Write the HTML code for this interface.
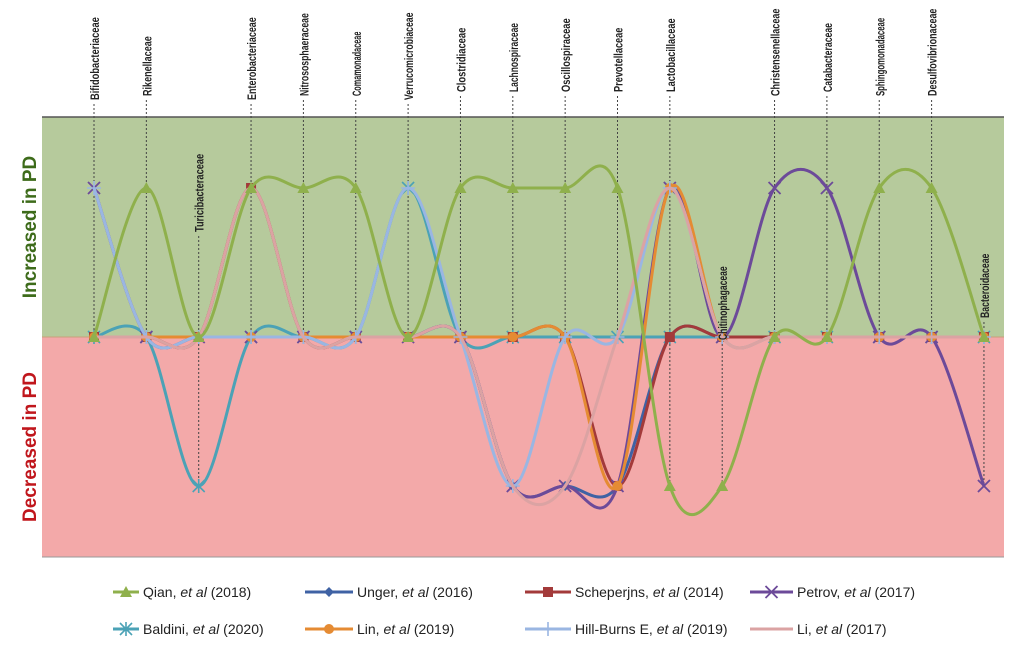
<!DOCTYPE html>
<html><head><meta charset="utf-8"><style>
body{margin:0;background:#fff;}
svg{display:block;font-family:"Liberation Sans",sans-serif;}
</style></head><body>
<svg id="chart" width="1014" height="648">
<rect x="42" y="117" width="962" height="220" fill="#b6ca9c"/>
<rect x="42" y="337" width="962" height="220" fill="#f3a9a9"/>
<line x1="42" y1="117" x2="1004" y2="117" stroke="#555" stroke-width="1.5"/>
<line x1="42" y1="557" x2="1004" y2="557" stroke="#999" stroke-width="1"/>
<line x1="42" y1="337" x2="1004" y2="337" stroke="#c9a07a" stroke-width="1"/>
<text transform="translate(36,227) rotate(-90)" text-anchor="middle" font-size="19" font-weight="bold" fill="#3d6b1a">Increased in PD</text>
<text transform="translate(36,447) rotate(-90)" text-anchor="middle" font-size="19" font-weight="bold" fill="#c0161c">Decreased in PD</text>
<g id="guides"></g><g id="lines"></g><g id="labels"></g><g id="legend"></g>
</svg>
<script>
const categories=["Bifidobacteriaceae","Rikenellaceae","Turicibacteraceae","Enterobacteriaceae","Nitrososphaeraceae","Comamonadaceae","Verrucomicrobiaceae","Clostridiaceae","Lachnospiraceae","Oscillospiraceae","Prevotellaceae","Lactobacillaceae","Chitinophagaceae","Christensenellaceae","Catabacteraceae","Sphingomonadaceae","Desulfovibrionaceae","Bacteroidaceae"];
const seriesNames=["Qian, et al (2018)","Unger, et al (2016)","Scheperjns, et al (2014)","Petrov, et al (2017)","Baldini, et al (2020)","Lin, et al (2019)","Hill-Burns E, et al (2019)","Li, et al (2017)"];
const qian=[0,1,0,1,1,1,0,1,1,1,1,-1,-1,0,0,1,1,0];
const unger=[0,0,0,0,0,0,0,0,-1,-1,-1,0,0,0,0,0,0,0];
const scheperjns=[0,0,0,1,0,0,0,0,0,0,-1,0,0,0,0,0,0,0];
const petrov=[1,0,0,0,0,0,0,0,-1,-1,-1,1,0,1,1,0,0,-1];
const baldini=[0,0,-1,0,0,0,1,0,0,0,0,0,0,0,0,0,0,0];
const lin=[0,0,0,0,0,0,0,0,0,0,-1,1,0,0,0,0,0,0];
const hillBurns=[1,0,0,0,0,0,1,0,-1,0,0,1,0,0,0,0,0,0];
const li=[0,0,0,1,0,0,0,0,-1,-1,0,1,0,0,0,0,0,0];
const labelEnds=[100,96,232,100,96,96,100,92,92,92,92,92,340,96,92,96,96,318];
</script>
<script>
const NS="http://www.w3.org/2000/svg";
const xs=i=>94+i*52.35;
const ys=v=>337-v*149;
function mk(t,a,p){const e=document.createElementNS(NS,t);for(const k in a)e.setAttribute(k,a[k]);p.appendChild(e);return e;}
const series=[
 {d:qian,c:"#8fb04c",m:"tri"},{d:unger,c:"#3f62a4",m:"dia"},{d:scheperjns,c:"#a33a3a",m:"sq"},{d:petrov,c:"#6c4a99",m:"x"},
 {d:baldini,c:"#4ba2b6",m:"star"},{d:lin,c:"#e58b33",m:"circ"},{d:hillBurns,c:"#9ab6e2",m:"plus"},{d:li,c:"#dba3a3",m:"none"}];
const drawOrder=[4,1,2,3,5,6,7,0];
const guides=document.getElementById('guides'),lines=document.getElementById('lines'),labels=document.getElementById('labels'),legend=document.getElementById('legend');
categories.forEach((c,i)=>{
 let ext=0;series.forEach(s=>{if(Math.abs(s.d[i])>Math.abs(ext))ext=s.d[i];});
 const y2=Math.max(ys(ext),ys(0));
 const g=mk('line',{x1:xs(i),y1:labelEnds[i]+4,x2:xs(i),y2:y2,stroke:'#444','stroke-width':1,'stroke-dasharray':'2,2'},guides);
 
 
 const t=mk('text',{transform:`translate(${xs(i)+5},${labelEnds[i]}) rotate(-90)`,'font-size':11.5,'font-weight':'bold',fill:'#222',textLength:c.length*4.6,lengthAdjust:'spacingAndGlyphs'},labels);
 t.textContent=c;
 
 
});
function pathFor(d){
 const p=d.map((v,i)=>[xs(i),ys(v)]);let s=`M${p[0][0]},${p[0][1]}`;
 for(let i=0;i<p.length-1;i++){const p0=p[Math.max(i-1,0)],p1=p[i],p2=p[i+1],p3=p[Math.min(i+2,p.length-1)];
  s+=` C${p1[0]+(p2[0]-p0[0])/6},${p1[1]+(p2[1]-p0[1])/6} ${p2[0]-(p3[0]-p1[0])/6},${p2[1]-(p3[1]-p1[1])/6} ${p2[0]},${p2[1]}`;}
 return s;}
function marker(m,x,y,c,p){
 if(m==='tri')return mk('path',{d:`M${x},${y-6}L${x+6},${y+5}L${x-6},${y+5}Z`,fill:c},p);
 if(m==='dia')return mk('path',{d:`M${x},${y-5}L${x+5},${y}L${x},${y+5}L${x-5},${y}Z`,fill:c},p);
 if(m==='sq')return mk('rect',{x:x-5,y:y-5,width:10,height:10,fill:c},p);
 if(m==='circ')return mk('circle',{cx:x,cy:y,r:5,fill:c},p);
 if(m==='x')return mk('path',{d:`M${x-6},${y-6}L${x+6},${y+6}M${x+6},${y-6}L${x-6},${y+6}`,stroke:c,'stroke-width':1.8},p);
 if(m==='star')return mk('path',{d:`M${x-6},${y-6}L${x+6},${y+6}M${x+6},${y-6}L${x-6},${y+6}M${x},${y-7}L${x},${y+7}`,stroke:c,'stroke-width':1.6},p);
 if(m==='plus')return mk('path',{d:`M${x},${y-7}L${x},${y+7}M${x-7},${y}L${x+7},${y}`,stroke:c,'stroke-width':1.6},p);
 return null;}
drawOrder.forEach(k=>{const s=series[k];
 const g=mk('g',{},lines);
 
 
 mk('path',{d:pathFor(s.d),fill:'none',stroke:s.c,'stroke-width':3},g);
 s.d.forEach((v,i)=>{marker(s.m,xs(i),ys(v),s.c,g);});
});
const lineX=[113,305,525,750],textX=[143,357,575,797],legY=[592,629];
seriesNames.forEach((n,k)=>{const r=Math.floor(k/4),c=k%4,x=lineX[c],y=legY[r],s=series[k];
 const g=mk('g',{},legend);
 
 
 const x2=textX[c]-4;
 mk('line',{x1:x,y1:y,x2:x2,y2:y,stroke:s.c,'stroke-width':3},g);
 marker(s.m,(x+x2)/2,y,s.c,g);
 const parts=n.split(', ');const t=mk('text',{x:textX[c],y:y+5,'font-size':14,fill:'#222'},g);
 t.appendChild(document.createTextNode(parts[0]+', '));
 const it=mk('tspan',{'font-style':'italic'},t);it.textContent='et al';
 t.appendChild(document.createTextNode(parts[1].replace('et al','')));
});
</script>
</body></html>
